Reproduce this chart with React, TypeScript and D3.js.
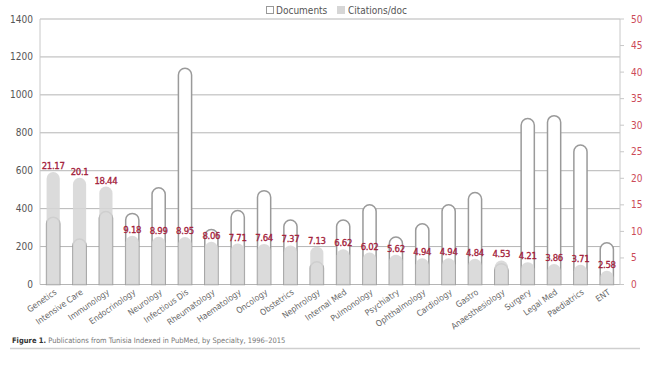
import React from 'react'
import * as d3 from 'd3'

const categories = ['Genetics', 'Intensive Care', 'Immunology', 'Endocrinology', 'Neurology', 'Infectious Dis',
    'Rheumatology', 'Haematology', 'Oncology', 'Obstetrics', 'Nephrology', 'Internal Med', 'Pulmonology',
    'Psychiatry', 'Ophthalmology', 'Cardiology', 'Gastro', 'Anaesthesiology', 'Surgery', 'Legal Med',
    'Paediatrics', 'ENT']
const documents = [355, 240, 385, 375, 510, 1140, 290, 390, 495, 340, 120, 340, 420, 250, 320, 420, 485, 110,
    875, 890, 735, 220]
const citations = [21.17, 20.1, 18.44, 9.18, 8.99, 8.95, 8.06, 7.71, 7.64, 7.37, 7.13, 6.62, 6.02, 5.62, 4.94,
    4.94, 4.84, 4.53, 4.21, 3.86, 3.71, 2.58]
const leftTicks = [0, 200, 400, 600, 800, 1000, 1200, 1400]
const rightTicks = [0, 5, 10, 15, 20, 25, 30, 35, 40, 45, 50]

const W = 652
const H = 368
const font = '"DejaVu Sans Condensed", "Liberation Sans Narrow", Roboto, sans-serif'

// bar with a round top, value reached at the top of the arc
const roundBar = (x: number, w: number, top: number, base: number) => {
    const r = Math.min(w / 2, Math.max(0, base - top))
    return `M${x},${base}V${top + r}A${w / 2},${r} 0 0 1 ${x + w},${top + r}V${base}Z`
}

export default function App() {
    const x = d3.scaleBand().domain(categories).range([40, 620]).paddingInner(0.5).paddingOuter(0.25)
    const yL = d3.scaleLinear().domain([0, 1400]).range([284.5, 19])
    const yR = d3.scaleLinear().domain([0, 50]).range([284.5, 19])
    const bw = x.bandwidth()
    const base = yL(0)

    return (
        <svg width={W} height={H} style={{ position: 'absolute', left: 0, top: 0, background: '#fff' }}
            fontFamily={font}>
            {/* legend */}
            <rect x={266.5} y={6.5} width={7} height={7} fill="#fff" stroke="#999" />
            <text x={276} y={14} fontSize={10} fill="#555">Documents</text>
            <rect x={337.5} y={6.5} width={7} height={7} fill="#d6d6d6" stroke="#d6d6d6" />
            <text x={348} y={14} fontSize={10} fill="#555">Citations/doc</text>

            {/* grid */}
            {leftTicks.map(t => (
                <line key={t} x1={40} x2={620} y1={yL(t)} y2={yL(t)} stroke="#b5b5b5" strokeWidth={1} />
            ))}
            <line x1={40} x2={40} y1={19} y2={base} stroke="#c8c8c8" />
            <line x1={620} x2={620} y1={19} y2={base} stroke="#c8c8c8" />

            {leftTicks.map(t => (
                <text key={t} x={33} y={yL(t)} dy="0.35em" textAnchor="end" fontSize={10} fill="#555">{t}</text>
            ))}
            {rightTicks.map(t => (
                <g key={t}>
                    <line x1={620} x2={624} y1={yR(t)} y2={yR(t)} stroke="#c8c8c8" />
                    <text x={631} y={yR(t)} dy="0.35em" fontSize={10} fill="#cc4a58">{t}</text>
                </g>
            ))}

            {/* documents bars */}
            {categories.map((c, i) => (
                <path key={c} d={roundBar(x(c)!, bw, yL(documents[i]), base)} fill="#fff" stroke="#9a9a9a"
                    strokeWidth={1.5} />
            ))}
            {/* citations bars */}
            {categories.map((c, i) => (
                <path key={c} d={roundBar(x(c)!, bw, yR(citations[i]), base)} fill="#d6d6d6" fillOpacity={0.88} />
            ))}
            {categories.map((c, i) => (
                <text key={c} x={x(c)! + bw / 2} y={yR(citations[i]) - 3} textAnchor="middle" fontSize={9.5}
                    letterSpacing={-0.3} fill="#a3203a" stroke="#a3203a" strokeWidth={0.3}>{citations[i]}</text>
            ))}

            {/* x labels */}
            {categories.map(c => (
                <text key={c} transform={`translate(${x(c)! + bw / 2 + 4},${base + 9}) rotate(-35)`}
                    textAnchor="end" fontSize={8.5} fill="#666">{c}</text>
            ))}

            {/* caption */}
            <text x={12} y={343} fontSize={7.5} fill="#777">
                <tspan fontWeight="bold" fill="#333">Figure 1.</tspan> Publications from Tunisia Indexed in PubMed, by Specialty, 1996–2015
            </text>
            <line x1={10} x2={640} y1={348.5} y2={348.5} stroke="#cfcfcf" strokeWidth={1.5} />
        </svg>
    )
}
